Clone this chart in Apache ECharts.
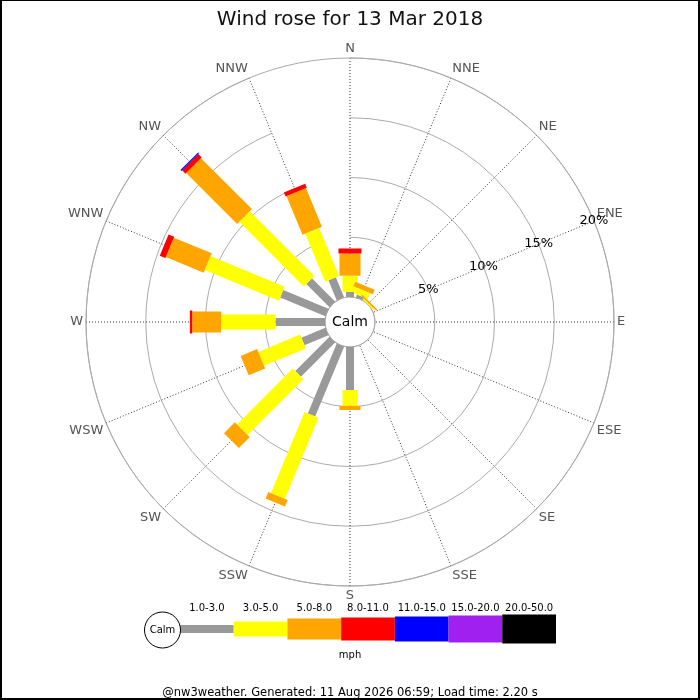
<!DOCTYPE html>
<html>
<head>
<meta charset="utf-8">
<script src="https://cdn.jsdelivr.net/npm/echarts@6/dist/echarts.min.js"></script>
<style>
html,body{margin:0;padding:0;background:#fff;}
#wrap{position:relative;width:700px;height:700px;}
#chart{position:absolute;left:0;top:0;width:700px;height:700px;}
#frame{position:absolute;left:0;top:0;width:700px;height:700px;box-sizing:border-box;border:2px solid #000;border-top-width:1px;pointer-events:none;}
</style>
</head>
<body>
<div id="wrap"><div id="chart"></div><div id="frame"></div></div>
<script>
// ---- data ----
const directions = ['N','NNE','NE','ENE','E','ESE','SE','SSE','S','SSW','SW','WSW','W','WNW','NW','NNW'];
const speedClasses = ['1.0-3.0','3.0-5.0','5.0-8.0','8.0-11.0','11.0-15.0','15.0-20.0','20.0-50.0'];
// percentage of time per direction for each speed class (mph)
const speed1to3   = [0.44,0.25,0,   0,0,0,0,0,3.60,6.33,4.05,2.17,4.14,4.09,2.75,1.82];
const speed3to5   = [1.34,0.53,0.12,0,0,0,0,0,1.32,7.33,6.61,3.79,4.55,6.71,7.64,4.35];
const speed5to8   = [1.86,0.41,0.14,0,0,0,0,0,0.35,0.59,1.28,1.49,2.42,3.43,6.03,3.50];
const speed8to11  = [0.42,0,   0,   0,0,0,0,0,0,   0,   0,   0,   0.20,0.51,0.40,0.37];
const speed11to15 = [0,   0,   0,   0,0,0,0,0,0,   0,   0,   0,   0,   0,   0.11,0   ];
const speed15to20 = [0,   0,   0,   0,0,0,0,0,0,   0,   0,   0,   0,   0,   0,   0   ];
const speed20to50 = [0,   0,   0,   0,0,0,0,0,0,   0,   0,   0,   0,   0,   0,   0   ];
const radiusMax = 20;
const radiusStep = 5;

// ---- styles ----
const classColors = ['#999999','#ffff00','#ffa500','#ff0000','#0000ff','#a020f0','#000000'];
const classWidths = [8,15,21,23,25,27,29];
const FONT = 'DejaVu Sans';

const allClasses = [speed1to3,speed3to5,speed5to8,speed8to11,speed11to15,speed15to20,speed20to50];
const segments = [];
directions.forEach((d, di) => {
  let cum = 0;
  allClasses.forEach((arr, k) => {
    const v = arr[di];
    if (v > 0) { segments.push([cum, cum + v, di, k]); }
    cum += v;
  });
});

const chart = echarts.init(document.getElementById('chart'), null, {renderer:'canvas'});
const option = {
  animation: false,
  textStyle: {fontFamily: FONT},
  title: [
    {text: 'Wind rose for 13 Mar 2018', left: 'center', top: 5,
     textStyle: {fontFamily: FONT, fontSize: 20, fontWeight: 'normal', color: '#111'}},
    {text: 'mph', left: 'center', top: 645,
     textStyle: {fontFamily: FONT, fontSize: 10, fontWeight: 'normal', color: '#000'}},
    {text: '@nw3weather. Generated: 11 Aug 2026 06:59; Load time: 2.20 s', left: 'center', top: 682,
     textStyle: {fontFamily: FONT, fontSize: 11.5, fontWeight: 'normal', color: '#000'}}
  ],
  polar: [
    {center: [350, 322], radius: [25, 264]},
    {center: [350, 322], radius: [25, 264]}
  ],
  angleAxis: [
    {polarIndex: 0, type: 'category', data: directions, boundaryGap: false,
     startAngle: 90, clockwise: true,
     axisLine: {show: true, lineStyle: {color: '#aaaaaa', width: 1}},
     axisTick: {show: false},
     axisLabel: {color: '#555', fontSize: 13, margin: 3, fontFamily: FONT},
     splitLine: {show: true, lineStyle: {color: '#333', width: 1, type: [1, 2]}}},
    {polarIndex: 1, type: 'value', min: 0, max: 360, startAngle: 22.5, show: false}
  ],
  radiusAxis: [
    {polarIndex: 0, min: 0, max: radiusMax, interval: radiusStep,
     axisLine: {show: false}, axisTick: {show: false}, axisLabel: {show: false},
     splitLine: {show: true, lineStyle: {color: '#aaaaaa', width: 1}}},
    {polarIndex: 1, min: 0, max: radiusMax, interval: radiusStep, z: 10,
     axisLine: {show: false}, axisTick: {show: false}, splitLine: {show: false},
     axisLabel: {show: true, margin: 0, align: 'center', verticalAlign: 'middle',
       fontSize: 13, color: '#000', fontFamily: FONT,
       formatter: v => (v === 0 ? '' : v + '%')}}
  ],
  grid: [{left: 180, width: 376, top: 617, height: 24}],
  xAxis: [{gridIndex: 0, type: 'category', data: speedClasses, position: 'top',
    axisLine: {show: false}, axisTick: {show: false},
    axisLabel: {interval: 0, fontSize: 10, color: '#000', margin: 4, fontFamily: FONT}}],
  yAxis: [{gridIndex: 0, type: 'value', min: -1, max: 1, show: false}],
  graphic: [
    {type: 'text', x: 350, y: 322, z: 100,
     style: {text: 'Calm', font: '14px "DejaVu Sans"', fill: '#000', align: 'center', verticalAlign: 'middle'}},
    {type: 'circle', shape: {cx: 162.5, cy: 630, r: 18}, z: 100,
     style: {fill: '#fff', stroke: '#000', lineWidth: 1}},
    {type: 'text', x: 162.5, y: 630, z: 101,
     style: {text: 'Calm', font: '10px "DejaVu Sans"', fill: '#000', align: 'center', verticalAlign: 'middle'}}
  ],
  series: [
    {
      type: 'custom', coordinateSystem: 'polar', polarIndex: 0, clip: false,
      data: segments,
      renderItem: function (params, api) {
        const r0 = api.value(0), r1 = api.value(1), a = api.value(2), k = api.value(3);
        const p0 = api.coord([r0, a]);
        const p1 = api.coord([r1, a]);
        const c0 = api.coord([0, a]);
        const c1 = api.coord([radiusMax, a]);
        let dx = c1[0] - c0[0], dy = c1[1] - c0[1];
        const L = Math.hypot(dx, dy); dx /= L; dy /= L;
        const hw = classWidths[k] / 2;
        const nx = -dy * hw, ny = dx * hw;
        return {
          type: 'polygon',
          shape: {points: [
            [p0[0] + nx, p0[1] + ny], [p1[0] + nx, p1[1] + ny],
            [p1[0] - nx, p1[1] - ny], [p0[0] - nx, p0[1] - ny]]},
          style: {fill: classColors[k]}
        };
      }
    },
    {
      type: 'custom', coordinateSystem: 'cartesian2d', xAxisIndex: 0, yAxisIndex: 0,
      data: speedClasses.map((c, i) => [i, 0]),
      renderItem: function (params, api) {
        const i = api.value(0);
        const p = api.coord([i, 0]);
        const w = api.size([1, 0])[0];
        const h = classWidths[i];
        return {type: 'rect', shape: {x: p[0] - w / 2, y: p[1] - h / 2, width: w, height: h},
                style: {fill: classColors[i]}};
      }
    }
  ]
};
chart.setOption(option);
</script>
</body>
</html>
